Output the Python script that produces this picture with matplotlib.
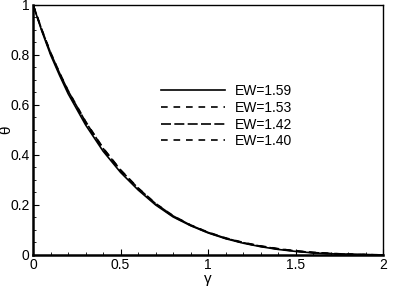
import matplotlib.pyplot as plt
from matplotlib.ticker import MultipleLocator

plt.rcParams['font.family'] = ['Liberation Sans', 'DejaVu Sans']

gamma = [0.0, 0.05, 0.1, 0.15, 0.2, 0.3, 0.4, 0.5, 0.6, 0.7, 0.8, 0.9, 1.0,
         1.1, 1.2, 1.3, 1.4, 1.5, 1.6, 1.7, 1.8, 1.9, 2.0]
theta_159 = [1.0, 0.895, 0.80, 0.72, 0.645, 0.52, 0.415, 0.33, 0.26, 0.20, 0.152, 0.117, 0.088,
             0.065, 0.047, 0.033, 0.022, 0.014, 0.008, 0.0045, 0.002, 0.0008, 0.0]
theta_153 = [1.0, 0.898, 0.805, 0.726, 0.652, 0.527, 0.421, 0.335, 0.264, 0.203, 0.154, 0.118, 0.089,
             0.066, 0.048, 0.034, 0.023, 0.015, 0.009, 0.005, 0.0025, 0.001, 0.0]
theta_142 = [1.0, 0.900, 0.808, 0.729, 0.656, 0.532, 0.426, 0.339, 0.267, 0.205, 0.156, 0.119, 0.090,
             0.067, 0.049, 0.035, 0.024, 0.016, 0.0095, 0.0055, 0.003, 0.0012, 0.0]
theta_140 = [1.0, 0.901, 0.810, 0.731, 0.658, 0.534, 0.428, 0.340, 0.268, 0.206, 0.157, 0.120, 0.091,
             0.068, 0.050, 0.036, 0.025, 0.016, 0.010, 0.006, 0.003, 0.0013, 0.0]
labels = ['EW=1.59', 'EW=1.53', 'EW=1.42', 'EW=1.40']

fig = plt.figure(figsize=(3.99, 2.90), dpi=100)
ax = fig.add_axes([0.083, 0.121, 0.877, 0.862])

ax.plot(gamma, theta_159, color='black', lw=1.2, ls='-', label=labels[0])
ax.plot(gamma, theta_153, color='black', lw=1.2, ls=(0, (4, 3.5)), label=labels[1])
ax.plot(gamma, theta_142, color='black', lw=1.2, ls=(0, (6, 2)), label=labels[2])
ax.plot(gamma, theta_140, color='black', lw=1.2, ls=(0, (4, 3.5)), label=labels[3])

ax.set_xlim(0, 2)
ax.set_ylim(0, 1)
ax.xaxis.set_major_locator(MultipleLocator(0.5))
ax.xaxis.set_minor_locator(MultipleLocator(0.1))
ax.yaxis.set_major_locator(MultipleLocator(0.2))
ax.yaxis.set_minor_locator(MultipleLocator(0.05))
ax.xaxis.set_major_formatter(plt.FuncFormatter(lambda v, p: f'{v:g}'))
ax.yaxis.set_major_formatter(plt.FuncFormatter(lambda v, p: f'{v:g}'))
ax.tick_params(which='both', direction='in', labelsize=10, pad=1.5)
ax.tick_params(axis='x', which='major', pad=2.5)
ax.tick_params(axis='y', which='major', pad=2.5)
ax.tick_params(which='major', length=4)
ax.tick_params(which='minor', length=2)
for s in ax.spines.values():
    s.set_linewidth(1.0)
ax.spines['bottom'].set_linewidth(1.8)
ax.spines['left'].set_linewidth(1.8)

ax.set_xlabel('γ', fontsize=11, labelpad=0)
ax.set_ylabel('θ', fontsize=11, labelpad=-2)

ax.legend(loc='center left', bbox_to_anchor=(0.331, 0.555), frameon=False, fontsize=10,
          handlelength=4.6, handletextpad=0.7, labelspacing=0.2)

fig.savefig('out.png', dpi=100)
